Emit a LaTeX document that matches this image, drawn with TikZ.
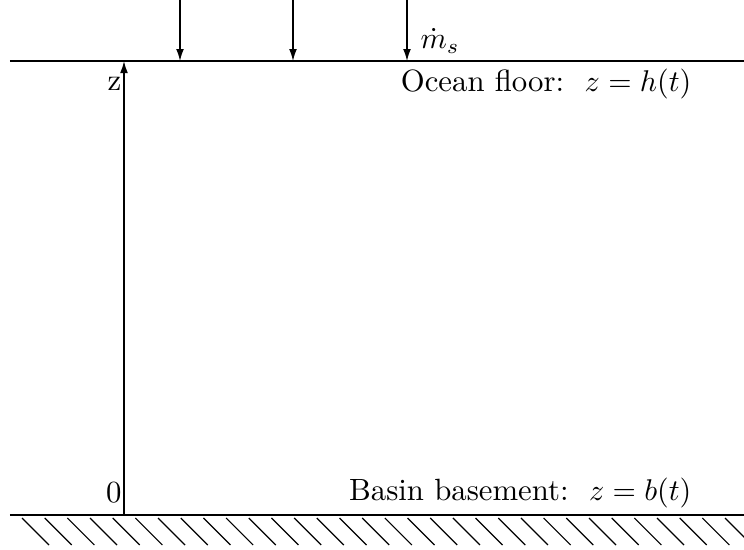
\documentclass[tikz,border=0pt]{standalone}
\usetikzlibrary{arrows.meta}
\begin{document}
\begin{tikzpicture}[x=0.3333pt,y=-0.3333pt,
  surface/.style={line width=0.65pt},
  flux/.style={line width=0.45pt,-{Latex[length=4pt,width=2.6pt]}},
  axis/.style={line width=0.5pt,-{Latex[length=4pt,width=2.6pt]}},
  hatchline/.style={line width=0.4pt},
  lbl/.style={inner sep=0pt,font=\fontsize{10.25}{12}\selectfont}]
\useasboundingbox (0,0) rectangle (744,550);
% surfaces
\coordinate (tl) at (10,61);
\coordinate (tr) at (744,61);
\coordinate (bl) at (10,515);
\coordinate (br) at (744,515);
\draw[surface] (tl) -- (tr);
\draw[surface] (bl) -- (br);
% hatching
\begin{scope}
\clip (0,516) rectangle (744,550);
\foreach \i in {0,...,31}{
  \draw[hatchline] ({22+22.68*\i},518) -- ({49+22.68*\i},545);
}
\end{scope}
% flux arrows
\foreach \x/\n in {180/a,293/b,407/c}{
  \coordinate (s\n) at (\x,0);
  \coordinate (e\n) at (\x,61);
  \draw[flux] (s\n) -- (e\n);
}
% axis
\coordinate (z0) at (124,515);
\coordinate (z1) at (124,61);
\draw[axis] (z0) -- (z1);
% labels
\node[lbl,anchor=west] (mdot) at (420,41) {$\dot m_s$};
\node[lbl,anchor=east] (zl) at (122,84) {z};
\node[lbl,anchor=east] (zero) at (122,493) {0};
\node[lbl,anchor=east] (ocean) at (692,84) {Ocean floor:\ \ $z=h(t)$};
\node[lbl,anchor=east] (basin) at (692,493) {Basin basement:\ \ $z=b(t)$};
\end{tikzpicture}
\end{document}
